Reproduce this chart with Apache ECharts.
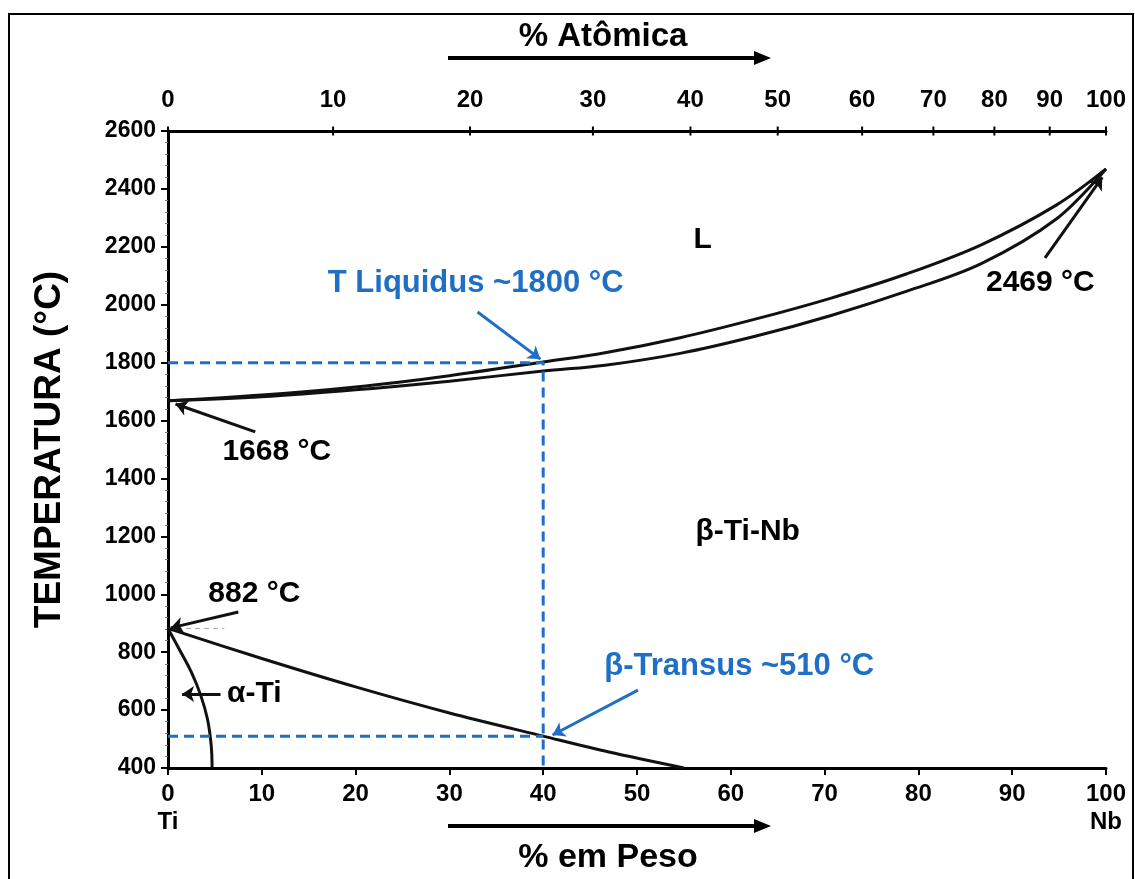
<!DOCTYPE html>
<html><head><meta charset="utf-8">
<script src="https://cdn.jsdelivr.net/npm/echarts@6/dist/echarts.min.js"></script>
<style>html,body{margin:0;padding:0;background:#fff}#c{width:1135px;height:879px}</style>
</head><body><div id="c"></div>
<script>
// ---- data (weight % Nb vs temperature °C) ----
const liqW = [0, 10, 20, 30, 40, 46.6, 54.6, 62.7, 70.7, 78.7, 86.7, 94.7, 100];
const liqT = [1668, 1688, 1716, 1755, 1802, 1834, 1886, 1951, 2023, 2106, 2207, 2344, 2469];
const solW = [0, 10, 20, 30, 40, 46.6, 54.6, 62.7, 70.7, 78.7, 86.7, 94.7, 100];
const solT = [1668, 1682, 1706, 1736, 1771, 1791, 1832, 1892, 1963, 2046, 2142, 2296, 2469];
const transW = [0, 10, 20, 30, 40, 47, 55];
const transT = [882, 778, 680, 590, 510, 455, 400];
const alphaW = [0, 1.2, 2.5, 3.5, 4.2, 4.6, 4.7];
const alphaT = [882, 810, 730, 650, 570, 480, 400];
const liqGuide = [[0, 1800], [40, 1800], [40, 400]];
const transGuide = [[0, 510], [40, 510]];
const topTickLabels = ['0', '10', '20', '30', '40', '50', '60', '70', '80', '90', '100'];
const topTickWt = [0, 17.6, 32.2, 45.3, 55.7, 65.0, 74.0, 81.6, 88.1, 94.0, 100];
// annotations (data coordinates)
const blackArrows = [[[9.3, 1561], [0.8, 1657]], [[7.5, 939], [0.3, 884]], [[5.6, 656], [1.5, 656]], [[93.5, 2162], [99.6, 2440]]];
const blueArrows = [[[33.0, 1975], [39.7, 1812]], [[50.1, 669], [41.0, 514]]];
const blackTexts = [['L', 57.0, 2224], ['β-Ti-Nb', 61.8, 1215], ['1668 °C', 11.6, 1492], ['882 °C', 9.2, 1001], ['α-Ti', 9.2, 656], ['2469 °C', 93.0, 2075]];
const blueTexts = [['T Liquidus ~1800 °C', 32.8, 2075], ['β-Transus ~510 °C', 60.9, 749]];

const FONT = "'Liberation Sans', Arial, sans-serif";
const BLUE = '#1f6fc6';
const zip = (a, b) => a.map((v, i) => [v, b[i]]);

const chart = echarts.init(document.getElementById('c'), null, {renderer: 'canvas'});
const curve = (d, sm) => ({type: 'line', data: d, smooth: sm, symbol: 'none', xAxisIndex: 0, yAxisIndex: 0,
  lineStyle: {color: '#111', width: 3}, z: 3, silent: true});

chart.setOption({
  animation: false,
  backgroundColor: '#fff',
  grid: {left: 168, right: 29, top: 131, bottom: 111, containLabel: false},
  xAxis: [
    {type: 'value', min: 0, max: 100, interval: 10, position: 'bottom',
     axisLine: {lineStyle: {color: '#000', width: 3}},
     axisTick: {show: true, length: 7, lineStyle: {color: '#000', width: 2}},
     splitLine: {show: false},
     axisLabel: {margin: 12, color: '#000', fontFamily: FONT, fontWeight: 'bold', fontSize: 24,
       formatter: v => v === 0 ? '{a|0}\n{a|Ti}' : (v === 100 ? '{a|100}\n{a|Nb}' : '{a|' + v + '}'),
       rich: {a: {fontFamily: FONT, fontWeight: 'bold', fontSize: 24, lineHeight: 28, color: '#000'}}}},
    {type: 'value', min: 0, max: 100, position: 'top',
     axisLine: {lineStyle: {color: '#000', width: 3}},
     axisTick: {show: false}, axisLabel: {show: false}, splitLine: {show: false}}
  ],
  yAxis: [
    {type: 'value', min: 400, max: 2600, interval: 200, position: 'left',
     name: 'TEMPERATURA (°C)', nameLocation: 'middle', nameGap: 100, nameRotate: 90,
     nameTextStyle: {fontFamily: FONT, fontWeight: 'bold', fontSize: 37, color: '#000'},
     axisLine: {lineStyle: {color: '#000', width: 3}},
     axisTick: {show: true, length: 7, lineStyle: {color: '#000', width: 2}},
     minorTick: {show: true, splitNumber: 5, length: 3, lineStyle: {color: '#777', width: 1}},
     splitLine: {show: false},
     axisLabel: {margin: 12, color: '#000', fontFamily: FONT, fontWeight: 'bold', fontSize: 23, formatter: v => String(v)}},
    {type: 'value', min: 400, max: 2600, interval: 200, position: 'right',
     axisLine: {lineStyle: {color: '#000', width: 3}},
     axisTick: {show: true, inside: true, length: 5, lineStyle: {color: '#000', width: 1.5}},
     axisLabel: {show: false}, splitLine: {show: false}}
  ],
  series: [
    curve(zip(liqW, liqT), 0.35),
    curve(zip(solW, solT), 0.35),
    curve(zip(transW, transT), 0.3),
    curve(zip(alphaW, alphaT), 0.4),
    {type: 'line', data: [[0, 882], [6, 882]], symbol: 'none', lineStyle: {color: '#aaa', width: 1, type: [5, 4]}, z: 2, silent: true},
    {type: 'line', data: liqGuide, symbol: 'none', lineStyle: {color: BLUE, width: 3, type: [10, 6]}, z: 4, silent: true},
    {type: 'line', data: transGuide, symbol: 'none', lineStyle: {color: BLUE, width: 3, type: [10, 6]}, z: 4, silent: true},
    {type: 'lines', coordinateSystem: 'cartesian2d', symbol: ['none', 'arrow'], symbolSize: 12, z: 6, silent: true,
     lineStyle: {color: '#111', width: 3, opacity: 1}, data: blackArrows.map(c => ({coords: c}))},
    {type: 'lines', coordinateSystem: 'cartesian2d', symbol: ['none', 'arrow'], symbolSize: 12, z: 6, silent: true,
     lineStyle: {color: BLUE, width: 3, opacity: 1}, data: blueArrows.map(c => ({coords: c}))},
    {type: 'scatter', symbolSize: 0, clip: false, z: 7, silent: true, itemStyle: {opacity: 1},
     data: blackTexts.map(t => ({name: t[0], value: [t[1], t[2]]})),
     label: {show: true, position: 'inside', formatter: p => p.name, color: '#000', fontFamily: FONT, fontWeight: 'bold', fontSize: 30}},
    {type: 'scatter', symbolSize: 0, clip: false, z: 7, silent: true, itemStyle: {opacity: 1},
     data: blueTexts.map(t => ({name: t[0], value: [t[1], t[2]]})),
     label: {show: true, position: 'inside', formatter: p => p.name, color: BLUE, fontFamily: FONT, fontWeight: 'bold', fontSize: 31}},
    {type: 'scatter', xAxisIndex: 1, yAxisIndex: 0, clip: false, z: 7, silent: true,
     symbol: 'rect', symbolSize: [2, 9], itemStyle: {color: '#000', opacity: 1},
     data: topTickWt.map((w, i) => ({name: topTickLabels[i], value: [w, 2600]})),
     label: {show: true, position: 'top', distance: 14, formatter: p => p.name, color: '#000', fontFamily: FONT, fontWeight: 'bold', fontSize: 24}}
  ],
  graphic: [
    {type: 'rect', shape: {x: 9, y: 14, width: 1124, height: 880}, style: {fill: 'none', stroke: '#000', lineWidth: 2}, silent: true},
    {type: 'text', x: 603, y: 37, style: {text: '% Atômica', fill: '#000', font: 'bold 33px ' + FONT, textAlign: 'center', textVerticalAlign: 'middle'}},
    {type: 'line', shape: {x1: 448, y1: 58, x2: 755, y2: 58}, style: {stroke: '#000', lineWidth: 4}},
    {type: 'polygon', shape: {points: [[754, 51], [771, 58], [754, 65]]}, style: {fill: '#000'}},
    {type: 'text', x: 608, y: 858, style: {text: '% em Peso', fill: '#000', font: 'bold 34px ' + FONT, textAlign: 'center', textVerticalAlign: 'middle'}},
    {type: 'line', shape: {x1: 448, y1: 826, x2: 755, y2: 826}, style: {stroke: '#000', lineWidth: 4}},
    {type: 'polygon', shape: {points: [[754, 819], [771, 826], [754, 833]]}, style: {fill: '#000'}}
  ]
});
</script></body></html>
